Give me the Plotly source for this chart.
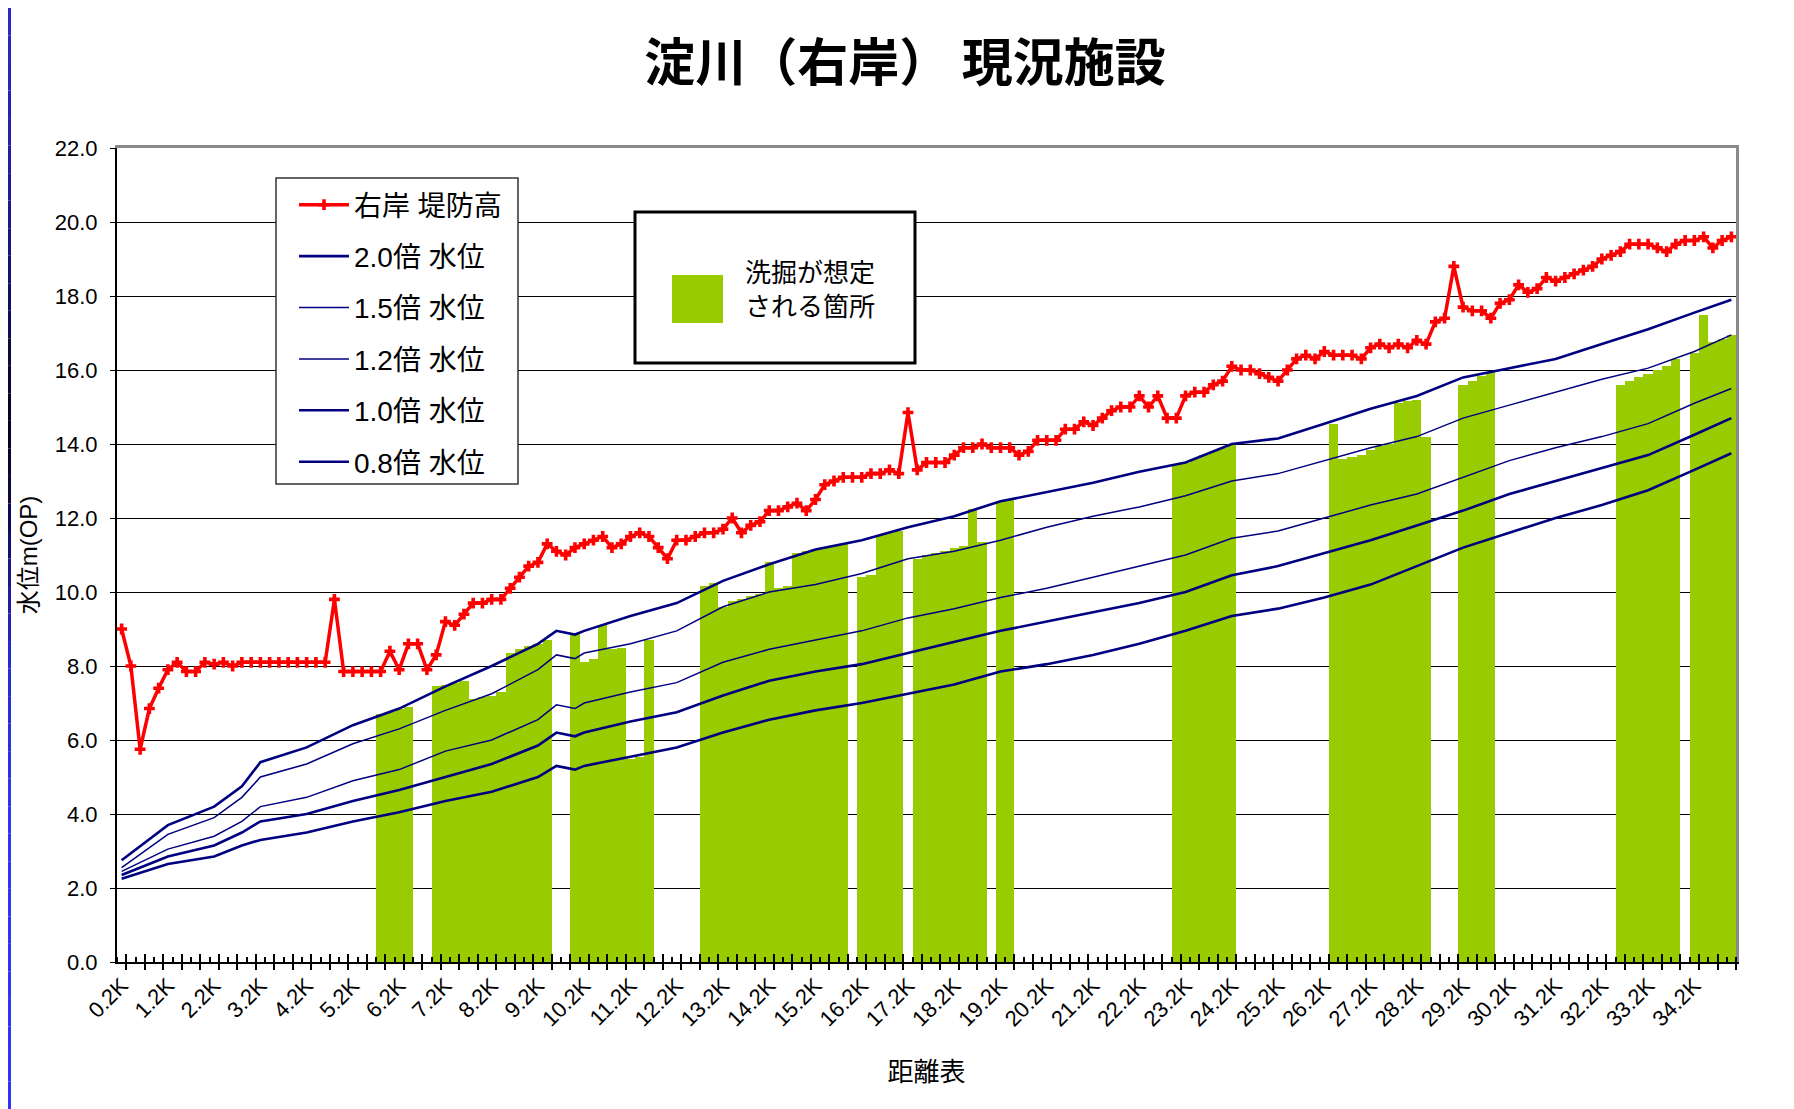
import plotly.graph_objects as go

# ---------------- data ----------------
CATS = [f"{0.2 + 0.2 * i:.1f}K" for i in range(175)]
TICK_LABELS = ["0.2K", "1.2K", "2.2K", "3.2K", "4.2K", "5.2K", "6.2K", "7.2K", "8.2K", "9.2K",
               "10.2K", "11.2K", "12.2K", "13.2K", "14.2K", "15.2K", "16.2K", "17.2K", "18.2K",
               "19.2K", "20.2K", "21.2K", "22.2K", "23.2K", "24.2K", "25.2K", "26.2K", "27.2K",
               "28.2K", "29.2K", "30.2K", "31.2K", "32.2K", "33.2K", "34.2K"]

DIKE = [9.0, 8.0, 5.75, 6.85, 7.4, 7.9, 8.1, 7.85, 7.85, 8.1, 8.05, 8.1, 8.0, 8.1, 8.1, 8.1, 8.1, 8.1, 8.1, 8.1,
        8.1, 8.1, 8.1, 9.8, 7.85, 7.85, 7.85, 7.85, 7.85, 8.4, 7.9, 8.6, 8.6, 7.9, 8.3, 9.2, 9.1, 9.4, 9.7, 9.7,
        9.8, 9.8, 10.1, 10.4, 10.7, 10.8, 11.3, 11.1, 11.0, 11.2, 11.3, 11.4, 11.5, 11.2, 11.3, 11.5, 11.6, 11.5, 11.2, 10.9,
        11.4, 11.4, 11.5, 11.6, 11.6, 11.7, 12.0, 11.6, 11.8, 11.9, 12.2, 12.2, 12.3, 12.4, 12.2, 12.5, 12.9, 13.0, 13.1, 13.1,
        13.1, 13.2, 13.2, 13.3, 13.2, 14.85, 13.3, 13.5, 13.5, 13.5, 13.7, 13.9, 13.9, 14.0, 13.9, 13.9, 13.9, 13.7, 13.8, 14.1,
        14.1, 14.1, 14.4, 14.4, 14.6, 14.5, 14.7, 14.9, 15.0, 15.0, 15.3, 15.0, 15.3, 14.7, 14.7, 15.3, 15.4, 15.4, 15.6, 15.7,
        16.1, 16.0, 16.0, 15.9, 15.8, 15.7, 16.0, 16.3, 16.4, 16.3, 16.5, 16.4, 16.4, 16.4, 16.3, 16.6, 16.7, 16.6, 16.7, 16.6,
        16.8, 16.7, 17.3, 17.4, 18.8, 17.7, 17.6, 17.6, 17.4, 17.8, 17.9, 18.3, 18.1, 18.2, 18.5, 18.4, 18.5, 18.6, 18.7, 18.8,
        19.0, 19.1, 19.2, 19.4, 19.4, 19.4, 19.3, 19.2, 19.4, 19.5, 19.5, 19.6, 19.3, 19.5, 19.6]

LEVEL_IDX = [0, 5, 10, 13, 15, 20, 25, 30, 35, 40, 45, 47, 49, 50, 55, 60, 65, 70, 75, 80, 85, 90, 95, 100,
             105, 110, 115, 120, 125, 130, 135, 140, 145, 150, 155, 160, 165, 170, 174]
W20 = [2.75, 3.7, 4.2, 4.75, 5.4, 5.8, 6.4, 6.85, 7.45, 8.0, 8.6, 8.95, 8.85, 8.95, 9.35, 9.7, 10.3, 10.75,
       11.15, 11.4, 11.75, 12.05, 12.45, 12.7, 12.95, 13.25, 13.5, 14.0, 14.15, 14.55, 14.95, 15.3, 15.8, 16.05,
       16.3, 16.7, 17.1, 17.55, 17.9]
W15 = [2.55, 3.45, 3.9, 4.45, 5.0, 5.35, 5.9, 6.3, 6.8, 7.25, 7.9, 8.3, 8.2, 8.35, 8.6, 8.95, 9.6, 10.0,
       10.2, 10.5, 10.9, 11.1, 11.4, 11.75, 12.05, 12.3, 12.6, 13.0, 13.2, 13.55, 13.9, 14.2, 14.7, 15.05,
       15.4, 15.75, 16.05, 16.5, 16.95]
W12 = [2.45, 3.05, 3.4, 3.8, 4.2, 4.45, 4.9, 5.2, 5.7, 6.0, 6.55, 6.95, 6.85, 7.0, 7.3, 7.55, 8.1, 8.45,
       8.7, 8.95, 9.3, 9.55, 9.85, 10.1, 10.4, 10.7, 11.0, 11.45, 11.65, 12.0, 12.35, 12.65, 13.1, 13.55,
       13.9, 14.2, 14.55, 15.1, 15.5]
W10 = [2.35, 2.85, 3.15, 3.5, 3.8, 4.0, 4.35, 4.65, 5.0, 5.35, 5.85, 6.2, 6.1, 6.2, 6.5, 6.75, 7.2, 7.6,
       7.85, 8.05, 8.35, 8.65, 8.95, 9.2, 9.45, 9.7, 10.0, 10.45, 10.7, 11.05, 11.4, 11.8, 12.2, 12.65,
       13.0, 13.35, 13.7, 14.25, 14.7]
W08 = [2.25, 2.65, 2.85, 3.15, 3.3, 3.5, 3.8, 4.05, 4.35, 4.6, 5.0, 5.3, 5.2, 5.3, 5.55, 5.8, 6.2, 6.55,
       6.8, 7.0, 7.25, 7.5, 7.85, 8.05, 8.3, 8.6, 8.95, 9.35, 9.55, 9.85, 10.2, 10.7, 11.2, 11.6,
       12.0, 12.35, 12.75, 13.3, 13.75]

SCOUR_IDX = [28, 29, 30, 31,
             34, 35, 36, 37, 38, 39, 40, 41, 42, 43, 44, 45, 46,
             49, 50, 51, 52, 53, 54, 55, 56, 57,
             63, 64, 65, 66, 67, 68, 69, 70, 71, 72, 73, 74, 75, 76, 77, 78,
             80, 81, 82, 83, 84,
             86, 87, 88, 89, 90, 91, 92, 93,
             95, 96,
             114, 115, 116, 117, 118, 119, 120,
             131, 132, 133, 134, 135, 136, 137, 138, 139, 140, 141,
             145, 146, 147, 148,
             162, 163, 164, 165, 166, 167, 168,
             170, 171, 172, 173, 174]
SCOUR_VAL = [6.7, 6.75, 6.85, 6.9,
             7.45, 7.5, 7.55, 7.6, 7.1, 7.15, 7.2, 7.3, 8.35, 8.45, 8.55, 8.6, 8.7,
             8.9, 8.1, 8.2, 9.1, 8.45, 8.5, 5.5, 5.55, 8.7,
             10.15, 10.25, 9.6, 9.75, 9.8, 9.9, 9.95, 10.8, 10.1, 10.15, 11.05, 11.1, 11.15, 11.2, 11.25, 11.3,
             10.4, 10.45, 11.55, 11.6, 11.65,
             10.9, 11.0, 11.05, 11.1, 11.2, 11.25, 12.25, 11.35,
             12.45, 12.5,
             13.45, 13.5, 13.6, 13.7, 13.8, 13.9, 14.0,
             14.55, 13.6, 13.65, 13.7, 13.85, 13.95, 14.0, 15.1, 15.15, 15.2, 14.2,
             15.6, 15.7, 15.85, 15.95,
             15.6, 15.7, 15.8, 15.9, 16.0, 16.1, 16.3,
             16.45, 17.5, 16.75, 16.85, 16.95]

# ---------------- style ----------------
GREEN = "#99CC00"
NAVY = "#000080"
RED = "#FF0000"
JP = "Noto Sans CJK JP"
MIX = "Liberation Sans, Noto Sans CJK JP"
NUM = "Liberation Sans"

OFF = 8                      # page offset of the figure (body margin)
W, H = 1794 - OFF, 1109 - OFF
# plot area in page pixels
L, R, T, B = 117, 1736, 148, 962


def px(x):
    return (x - L) / (R - L)


def py(y):
    return (B - y) / (B - T)


fig = go.Figure()

fig.add_trace(go.Bar(x=[CATS[i] for i in SCOUR_IDX], y=SCOUR_VAL, width=1.0,
                     marker=dict(color=GREEN, line=dict(width=0)),
                     name="洗掘が想定される箇所", showlegend=False, hoverinfo="x+y"))

levels = [("0.8倍 水位", W08, 2.6, 6), ("1.0倍 水位", W10, 2.6, 5), ("1.2倍 水位", W12, 1.5, 4),
          ("1.5倍 水位", W15, 1.5, 3), ("2.0倍 水位", W20, 2.6, 2)]
for name, vals, lw, rank in levels:
    fig.add_trace(go.Scatter(x=[CATS[i] for i in LEVEL_IDX], y=vals, mode="lines",
                             line=dict(color=NAVY, width=lw), name=name,
                             legendgroup=name, legendrank=rank))

fig.add_trace(go.Scatter(x=CATS, y=DIKE, mode="lines+markers",
                         line=dict(color=RED, width=3.5),
                         marker=dict(symbol="cross", size=9, color=RED),
                         name="右岸 堤防高", legendgroup="dike", legendrank=1))

# helper empty traces so that overlay axes are drawn
for xa, ya in [("x2", "y"), ("x3", "y"), ("x4", "y"), ("x", "y2")]:
    fig.add_trace(go.Scatter(x=[], y=[], xaxis=xa, yaxis=ya, showlegend=False, hoverinfo="skip"))

shapes = []
# slide decoration: left band gradient (only the part that lies inside the figure)
stops = [(0, (42, 42, 205)), (180, (30, 30, 160)), (330, (12, 12, 80)), (430, (4, 4, 30)),
         (520, (12, 12, 85)), (650, (40, 40, 210)), (800, (50, 50, 240)), (1109, (52, 52, 245))]
nb = 40
for k in range(nb):
    y0 = OFF + k * (H) / nb
    y1 = OFF + (k + 1) * (H) / nb
    ym = (y0 + y1) / 2
    c = stops[-1][1]
    for (a, ca), (b, cb) in zip(stops[:-1], stops[1:]):
        if a <= ym <= b:
            t = (ym - a) / (b - a)
            c = tuple(int(ca[j] + (cb[j] - ca[j]) * t) for j in range(3))
            break
    shapes.append(dict(type="rect", xref="paper", yref="paper", x0=px(OFF), x1=px(OFF + 3),
                       y0=py(y1), y1=py(y0),
                       fillcolor=f"rgb{c}", line=dict(width=0), layer="above"))
# legend 1 frame
shapes.append(dict(type="rect", xref="paper", yref="paper", x0=px(276), x1=px(518), y0=py(484), y1=py(178),
                   fillcolor="white", line=dict(color="#333333", width=1.5), layer="above"))
# legend 2 (scour) frame and swatch
shapes.append(dict(type="rect", xref="paper", yref="paper", x0=px(635), x1=px(915), y0=py(363), y1=py(212),
                   fillcolor="white", line=dict(color="black", width=3), layer="above"))
shapes.append(dict(type="rect", xref="paper", yref="paper", x0=px(672), x1=px(723), y0=py(323), y1=py(275),
                   fillcolor=GREEN, line=dict(width=0), layer="above"))

annotations = [
    dict(xref="paper", yref="paper", x=px(743), y=py(287), xanchor="left", yanchor="middle",
         text="洗掘が想定<br>される箇所", showarrow=False, align="left",
         font=dict(family=JP, size=26, color="black")),
]

fig.update_layout(
    width=W, height=H,
    margin=dict(l=L - OFF, r=W - (R - OFF), t=T - OFF, b=H - (B - OFF)),
    paper_bgcolor="white", plot_bgcolor="white",
    title=dict(text="<b>淀川（右岸） 現況施設</b>", x=(905 - OFF) / W, xanchor="center", xref="container",
               y=1 - 55 / H, yanchor="middle",
               font=dict(family=JP, size=51, color="black")),
    barmode="overlay", bargap=0,
    showlegend=True,
    legend=dict(x=px(294), y=py(180), xanchor="left", yanchor="top", bgcolor="rgba(0,0,0,0)",
                borderwidth=0,
                font=dict(family=MIX, size=28, color="black"),
                tracegroupgap=12, itemwidth=50),
    xaxis=dict(type="category", categoryorder="array", categoryarray=CATS,
               range=[-0.5, 174.5], tickmode="array",
               tickvals=[CATS[i] for i in range(0, 175, 5)], ticktext=TICK_LABELS,
               tickangle=-45, ticks="", showline=True, linecolor="black", linewidth=2,
               showgrid=False, zeroline=False,
               tickfont=dict(family=NUM, size=22, color="black"),
               title=dict(text="距離表", font=dict(family=JP, size=26, color="black"), standoff=32)),
    yaxis=dict(range=[0, 22], dtick=2, tickformat=".1f", showgrid=True, gridcolor="black", gridwidth=1,
               showline=True, linecolor="black", linewidth=2, ticks="outside", ticklen=5,
               tickcolor="black", zeroline=False, ticklabelstandoff=8,
               tickfont=dict(family=NUM, size=22, color="black"),
               title=dict(text="水位m(OP)", font=dict(family=MIX, size=24, color="black"), standoff=10)),
    xaxis2=dict(overlaying="x", anchor="y", side="bottom", range=[-0.5, 174.5], tickmode="linear",
                tick0=0.5, dtick=2, ticks="outside", ticklen=7, tickwidth=1.5, tickcolor="black",
                showticklabels=False, showgrid=False, zeroline=False, showline=False,
                minor=dict(ticks="inside", tick0=0.5, dtick=1, ticklen=5, tickwidth=1.5,
                           tickcolor="black", showgrid=False)),
    xaxis3=dict(overlaying="x", anchor="y", side="bottom", range=[-0.5, 174.5], tickmode="linear",
                tick0=0.5, dtick=2, ticks="inside", ticklen=8, tickwidth=1.5, tickcolor="black",
                showticklabels=False, showgrid=False, zeroline=False, showline=False),
    xaxis4=dict(overlaying="x", anchor="y", side="top", range=[-0.5, 174.5], showline=True,
                linecolor="#8a8a8a", linewidth=3, showticklabels=False, ticks="", showgrid=False,
                zeroline=False),
    yaxis2=dict(overlaying="y", anchor="x", side="right", range=[0, 22], showline=True,
                linecolor="#8a8a8a", linewidth=3, showticklabels=False, ticks="", showgrid=False,
                zeroline=False),
    shapes=shapes,
    annotations=annotations,
)

fig.write_html("out.html")
